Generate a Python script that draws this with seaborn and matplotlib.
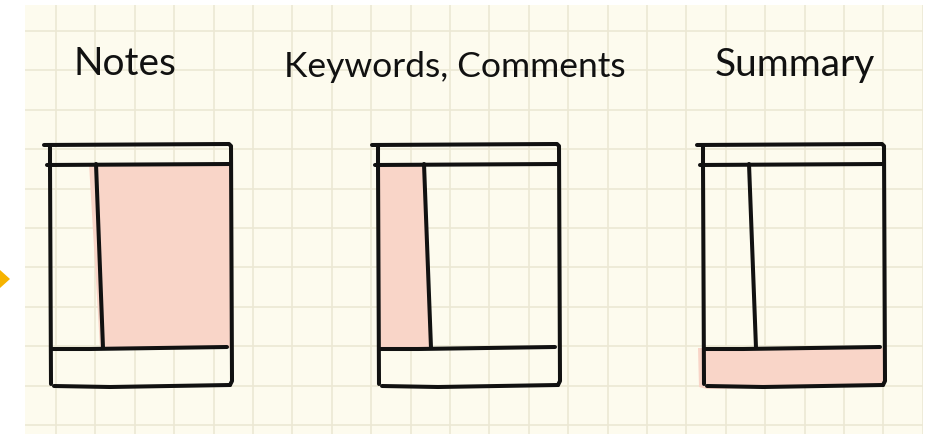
import numpy as np
import matplotlib
matplotlib.use("Agg")
import matplotlib.pyplot as plt
import seaborn as sns

# the three Cornell-notes sketches, left to right
panel_titles = ["Notes", "Keywords, Comments", "Summary"]
# which part of the page is shaded in each sketch
highlighted = ["notes", "cue", "summary"]

# page template in pixels, measured from the page's top-left corner
page_w, page_h = 181, 241
header_y = 20
cue_x_top, cue_x_bottom = 46, 53
summary_y = 204

# where each page and its title sit on the sheet
panel_left = [50, 378, 703]
panel_top = 144
title_x = [125, 455, 795]
title_y = [64, 67, 65]
title_size = [28, 25.5, 28]

paper = "#fdfbee"
grid_col = "#ece8d4"
ink = "#111111"
pink = "#f9d5c8"
arrow_col = "#f6b300"

sns.set_theme(style="white")
plt.rcParams["font.family"] = ["Lato", "DejaVu Sans"]

W, H = 933, 434
fig = plt.figure(figsize=(W / 100, H / 100), dpi=100)
fig.patch.set_facecolor("white")

# the squared paper: starts 25px in from the left, 5px down from the top
ax = fig.add_axes([25 / W, 0, (923 - 25) / W, (H - 5) / H])
ax.set_xlim(25, 923)
ax.set_ylim(H, 5)
ax.set_facecolor(paper)
ax.set_xticks(np.arange(56, 923, 39.4))
ax.set_yticks(np.arange(31, H, 39.4))
ax.grid(True, color=grid_col, lw=1.2)
ax.tick_params(length=0, labelbottom=False, labelleft=False)
sns.despine(ax=ax, left=True, bottom=True)


def pen(xs, ys, lw=2.9):
    ax.plot(xs, ys, color=ink, lw=lw, solid_capstyle="round",
            solid_joinstyle="round", zorder=4)


for title, part, L, tx, ty, fs in zip(panel_titles, highlighted, panel_left,
                                      title_x, title_y, title_size):
    T = panel_top
    R = L + page_w
    B = T + page_h
    hy = T + header_y
    sy = T + summary_y
    cx_t = L + cue_x_top
    cx_b = L + cue_x_bottom

    # shaded region
    if part == "notes":
        ax.fill([cx_t - 7, R - 1, R - 1, cx_b - 3], [hy, hy, sy, sy],
                color=pink, lw=0, zorder=2)
    elif part == "cue":
        ax.fill([L + 1, cx_t, cx_b, L + 1], [hy, hy, sy, sy],
                color=pink, lw=0, zorder=2)
    else:
        ax.fill([L - 5, R, R, L + 4, L - 4], [sy, sy, B + 1, B + 4, B + 2],
                color=pink, lw=0, zorder=2)

    # outer page
    pen([L - 6, R - 2, R, R + 1, R - 1], [T + 1, T, T + 2, B - 4, B])
    pen([R - 1, L + 60, L + 4], [B, B + 2, B + 1])
    pen([L + 1, L, L], [B - 1, hy, T + 1])
    # header line
    pen([L - 3, R], [hy + 1, hy])
    # cue column
    pen([cx_t, cx_b], [hy, sy])
    # summary line
    pen([L + 1, L + 40, R - 4], [sy + 1, sy + 1, sy - 1])

    ax.text(tx, ty, title, ha="center", va="center", fontsize=fs,
            color=ink, zorder=5)

# orange pointer sticking in from the left margin
ax.fill([0, 10, 0], [270, 279, 288], color=arrow_col, lw=0, clip_on=False, zorder=5)

fig.savefig("out.png", dpi=100, facecolor="white")
